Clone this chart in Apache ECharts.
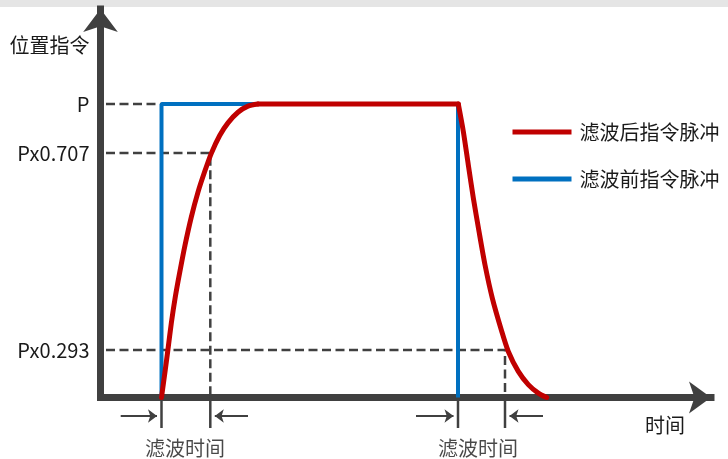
<!DOCTYPE html>
<html><head><meta charset="utf-8">
<script src="https://cdn.jsdelivr.net/npm/echarts@6/dist/echarts.min.js"></script>
<style>html,body{margin:0;padding:0;background:#fff}#c{width:728px;height:459px}</style>
</head><body><div id="c"></div>
<script>
// ---- data (time units / level units) ----
const yTickValues = [100, 83.3, 16.2];
const yTickLabels = ['P', 'Px0.707', 'Px0.293'];
const seriesNames = ['滤波后指令脉冲', '滤波前指令脉冲'];
const beforeT = [61, 61, 357.5, 357.5];
const beforeV = [0, 100, 100, 0];
const riseT = [61, 64.8, 67.5, 70.8, 74.8, 79.2, 84.5, 90.8, 97.5, 104.2, 110.8, 119.2, 127.5, 137.5, 147.5, 157.5];
const riseV = [0, 9.5, 16.5, 25.3, 34.3, 42.6, 51.9, 61.5, 70.0, 77.0, 83.2, 89.3, 93.6, 97.2, 99.3, 100];
const holdT = [157.5, 357.8];
const holdV = [100, 100];
const fallT = [357.8, 362.8, 367.8, 372.8, 378.5, 384.5, 391.8, 401.2, 407.8, 417.8, 427.8, 437.8, 446.2];
const fallV = [100, 90.7, 79.3, 68.0, 56.6, 45.2, 33.9, 22.6, 15.7, 8.9, 4.4, 1.5, 0];
const filterStart = [61, 357.5];
const filterEnd = [109.8, 404.5];
const arrowOuterLeft = [20.2, 315.5];
const arrowOuterRight = [147.5, 442.5];
const guideStart = 5.5;
const filterLabel = '滤波时间';
const filterLabelT = [84.5, 377.5];
const axisNameY = '位置指令';
const axisNameX = '时间';

const FONT = '"Noto Sans CJK SC", "Noto Sans", sans-serif';
const AX = '#404040';
const TXT = '#1a1a1a';
const RED = '#c00000', BLUE = '#0070c0';
const tickBottom = -10.4, arrowY = -6.3, labelY = -17.2, arrowHalf = 4.5;

const dash = {color: AX, width: 2.5, type: [9, 4.5]};
const guideSeries = [];
guideSeries.push([[guideStart, yTickValues[0]], [beforeT[1], yTickValues[0]]]);
guideSeries.push([[guideStart, yTickValues[1]], [filterEnd[0], yTickValues[1]], [filterEnd[0], 0]]);
guideSeries.push([[guideStart, yTickValues[2]], [filterEnd[1], yTickValues[2]], [filterEnd[1], 0]]);

const series = [];
guideSeries.forEach(d => series.push({type: 'line', data: d, symbol: 'none', lineStyle: dash, silent: true, z: 1, clip: false}));
[...filterStart, ...filterEnd].forEach(t => series.push({
  type: 'line', data: [[t, 0], [t, tickBottom]], symbol: 'none', clip: false, silent: true,
  lineStyle: {color: AX, width: 2.5}, z: 1
}));
function arrowSeries(from, tip) {
  const dir = tip > from ? 1 : -1;
  return {
    type: 'line', clip: false, silent: true, z: 2, showSymbol: true, showAllSymbol: true,
    lineStyle: {color: AX, width: 2.2}, itemStyle: {color: AX, borderWidth: 0},
    data: [
      {value: [from, arrowY], symbol: 'none'},
      {value: [tip - dir * arrowHalf, arrowY], symbol: 'arrow', symbolSize: [10, 9], symbolRotate: dir > 0 ? -90 : 90}
    ]
  };
}
for (let i = 0; i < filterStart.length; i++) {
  series.push(arrowSeries(arrowOuterLeft[i], filterStart[i]));
  series.push(arrowSeries(arrowOuterRight[i], filterEnd[i]));
}
series.push({
  type: 'scatter', symbolSize: 0, silent: true, clip: false,
  data: filterLabelT.map(t => [t, labelY]),
  label: {show: true, position: 'inside', formatter: filterLabel, fontSize: 20, fontFamily: FONT, color: TXT}
});
series.push({
  name: seriesNames[1], type: 'line', symbol: 'none', z: 3,
  data: beforeT.map((t, i) => [t, beforeV[i]]),
  lineStyle: {color: BLUE, width: 4}, itemStyle: {color: BLUE}
});
const redStyle = {color: RED, width: 5, join: 'round', cap: 'round'};
[[riseT, riseV, 0.25], [holdT, holdV, false], [fallT, fallV, 0.25]].forEach(([T, V, sm]) => series.push({
  name: seriesNames[0], type: 'line', symbol: 'none', smooth: sm, z: 4,
  data: T.map((t, i) => [t, V[i]]),
  lineStyle: redStyle, itemStyle: {color: RED}
}));

const chart = echarts.init(document.getElementById('c'), null, {renderer: 'canvas'});
chart.setOption({
  animation: false,
  backgroundColor: '#fff',
  graphic: [{type: 'rect', shape: {x: 0, y: 0, width: 728, height: 7}, style: {fill: '#e5e5e5'}, silent: true}],
  grid: {left: 100.5, right: 17, top: 9, bottom: 61.5, containLabel: false},
  legend: {
    orient: 'vertical', left: 507.5, top: 117, itemWidth: 59, itemHeight: 5, itemGap: 27, icon: 'rect',
    data: seriesNames, selectedMode: false,
    textStyle: {fontSize: 20, fontFamily: FONT, color: TXT, padding: [0, 0, 0, 3]}
  },
  xAxis: {
    type: 'value', min: 0, max: 610.5,
    name: axisNameX, nameLocation: 'end', nameGap: -66,
    nameTextStyle: {fontSize: 20, fontFamily: FONT, color: TXT, align: 'left', verticalAlign: 'top', padding: [18, 0, 0, 0]},
    axisLine: {show: true, onZero: false, symbol: ['none', 'arrow'], symbolSize: [24, 22],
      lineStyle: {color: AX, width: 7, cap: 'square'}},
    axisTick: {show: false}, axisLabel: {show: false}, splitLine: {show: false}
  },
  yAxis: {
    type: 'value', min: 0, max: 132.4,
    name: axisNameY, nameLocation: 'end', nameGap: -36,
    nameTextStyle: {fontSize: 20, fontFamily: FONT, color: TXT, align: 'right', verticalAlign: 'middle', padding: [0, 11, 0, 0]},
    axisLine: {show: true, symbol: ['none', 'arrow'], symbolSize: [26, 23],
      lineStyle: {color: AX, width: 7, cap: 'square'}},
    axisTick: {show: false}, splitLine: {show: false},
    axisLabel: {show: true, customValues: yTickValues, margin: 11, fontSize: 20, fontFamily: FONT, color: TXT,
      formatter: v => { const i = yTickValues.indexOf(v); return i >= 0 ? yTickLabels[i] : ''; }}
  },
  series: series
});
</script></body></html>
